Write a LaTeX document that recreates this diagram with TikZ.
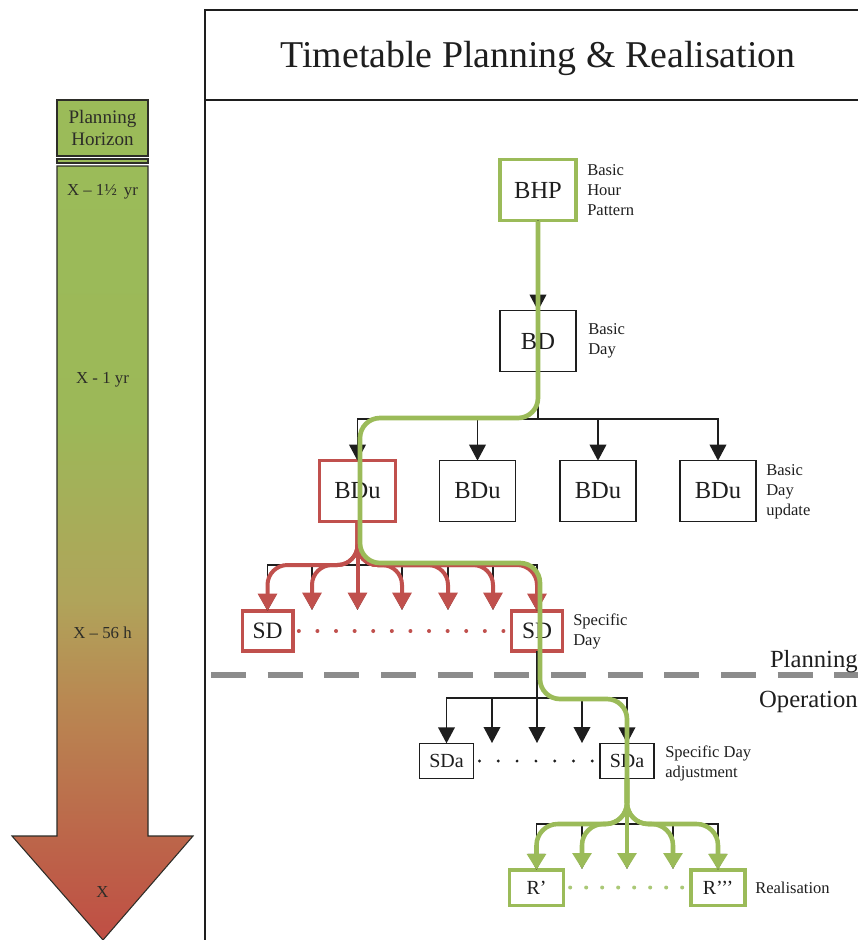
\documentclass[tikz,border=0pt]{standalone}
\usepackage{fontspec}
\setmainfont{Liberation Serif}
\usetikzlibrary{arrows.meta}

\definecolor{hzgreen}{RGB}{155,187,89}
\definecolor{hzgreenb}{RGB}{156,184,88}
\definecolor{hzolive}{RGB}{176,164,90}
\definecolor{hztan}{RGB}{185,136,82}
\definecolor{hzbrown}{RGB}{188,102,74}
\definecolor{hzred}{RGB}{192,78,68}
\definecolor{hzedge}{RGB}{45,45,40}
\definecolor{flowred}{RGB}{192,80,77}
\definecolor{flowgreen}{RGB}{155,187,89}
\definecolor{dotgreen}{RGB}{170,200,118}
\definecolor{ink}{RGB}{30,30,30}
\definecolor{dashgray}{RGB}{140,140,140}

% time axis: green at the top, red towards the deadline
\pgfdeclareverticalshading{horizonshade}{100bp}{%
  color(0bp)=(hzred); color(25bp)=(hzred); color(31.7bp)=(hzbrown);
  color(40.5bp)=(hztan); color(47bp)=(hzolive); color(58.6bp)=(hzgreenb);
  color(75bp)=(hzgreen); color(100bp)=(hzgreen)}

\begin{document}
\begin{tikzpicture}[x=0.75pt,y=-0.75pt,
  nbox/.style={draw=ink, line width=1.2pt, fill=white, inner sep=0pt, outer sep=0pt, text=ink},
  bigbox/.style={nbox, minimum width=57pt, minimum height=45.5pt, font=\fontsize{18.4}{20}\selectfont},
  sdbox/.style={nbox, minimum width=38pt, minimum height=30pt, font=\fontsize{17.6}{20}\selectfont},
  smallbox/.style={nbox, minimum width=40.5pt, minimum height=26.5pt, font=\fontsize{15}{17}\selectfont},
  redbox/.style={draw=flowred, line width=2.5pt},
  greenbox/.style={draw=flowgreen, line width=2.5pt},
  note/.style={font=\fontsize{12.4}{15}\selectfont, align=left, anchor=west, inner sep=0pt, text=ink},
  hztext/.style={font=\fontsize{12.6}{15}\selectfont, text=hzedge, inner sep=0pt},
  blkline/.style={draw=ink, line width=1.1pt},
  blk/.style={blkline, -{Triangle[width=12.5pt,length=12pt]}},
  redfan/.style={draw=flowred, line width=3pt, rounded corners=15pt, -{Triangle[width=14pt,length=13pt]}},
  greenfan/.style={draw=flowgreen, line width=3.4pt, rounded corners=16pt, -{Triangle[width=14pt,length=12pt]}},
  greenroute/.style={draw=flowgreen, line width=3.5pt, rounded corners=15pt},
  dots/.style={line cap=round, line width=3pt}
]
\useasboundingbox (0,0) rectangle (858,940);

% ---------- planning horizon arrow ----------
\shadedraw[shading=horizonshade, draw=hzedge, line width=0.8pt]
  (57,166) -- (148,166) -- (148,836) -- (193,836) -- (103,940) -- (12,836) -- (57,836) -- cycle;
\node[draw=hzedge, fill=hzgreen, line width=0.8pt, minimum width=68.25pt, minimum height=42pt,
      inner sep=0pt, align=center, text=hzedge, font=\fontsize{14.3}{16.5}\selectfont]
  (hdr) at (102.5,128) {Planning\\Horizon};
\draw[draw=hzedge, fill=hzgreen, line width=0.8pt] (57,159) rectangle (148,163);
\node[hztext] (t1) at (102.5,192) {X – 1½\, yr};
\node[hztext] (t2) at (102.5,380) {X - 1 yr};
\node[hztext] (t3) at (102.5,633) {X – 56 h};
\node[hztext] (t4) at (102.5,892) {X};

% ---------- frame and title ----------
\draw[ink, line width=1.5pt] (205,940) -- (205,10) -- (858,10);
\draw[ink, line width=1.5pt] (205,100) -- (858,100);
\node[font=\fontsize{28.4}{34}\selectfont, anchor=base, text=ink] (title) at (538,67)
  {Timetable Planning \& Realisation};

% ---------- planning / operation boundary ----------
\draw[dashgray, line width=4pt, dash pattern=on 26.3pt off 16.2pt] (211,675) -- (858,675);
\node[anchor=base east, inner sep=0pt, text=ink, font=\fontsize{18.5}{20}\selectfont] (plan) at (858,667) {Planning};
\node[anchor=base east, inner sep=0pt, text=ink, font=\fontsize{18.5}{20}\selectfont] (oper) at (858,707) {Operation};

% ---------- boxes ----------
\node[bigbox, greenbox] (BHP) at (538,190) {BHP};
\node[bigbox] (BD) at (538,341) {BD};
\node[bigbox, redbox] (BDu1) at (357.5,491) {BDu};
\node[bigbox] (BDu2) at (477.5,491) {BDu};
\node[bigbox] (BDu3) at (598,491) {BDu};
\node[bigbox] (BDu4) at (718,491) {BDu};
\node[sdbox, redbox] (SD1) at (267.5,631) {SD};
\node[sdbox, redbox] (SD2) at (537,631) {SD};
\node[smallbox] (SDa1) at (446.5,761) {SDa};
\node[smallbox] (SDa2) at (627,761) {SDa};
\node[smallbox, greenbox] (R1) at (536.5,887.5) {R’};
\node[smallbox, greenbox] (R2) at (718,887.5) {R’’’};

% ---------- side notes ----------
\node[note] (nbhp) at (587,190) {Basic\\Hour\\Pattern};
\node[note] (nbd) at (588,341) {Basic\\Day};
\node[note] (nbdu) at (766,492) {Basic\\Day\\update};
\node[note] (nsd) at (573,631) {Specific\\Day};
\node[note] (nsda) at (665,763) {Specific Day\\adjustment};
\node[note] (nr) at (755,888) {Realisation};

% ---------- branching points ----------
\coordinate (bdbus) at (538,419);
\coordinate (sdbus) at (357.5,565);
\coordinate (sdabus) at (537,698);
\coordinate (rbus) at (627,824);
\coordinate (sd2) at (312,610);
\coordinate (sd3) at (357.5,610);
\coordinate (sd4) at (402,610);
\coordinate (sd5) at (448,610);
\coordinate (sd6) at (493,610);
\coordinate (sda2) at (492,743);
\coordinate (sda3) at (537,743);
\coordinate (sda4) at (582,743);
\coordinate (r2) at (582,869);
\coordinate (r3) at (627,869);
\coordinate (r4) at (673,869);

% ---------- hierarchy (black) ----------
\draw[blk] (BHP.south) -- (BD.north);
\draw[blkline] (BD.south) -- (bdbus);
\foreach \t in {BDu1,BDu2,BDu3,BDu4} \draw[blk] (bdbus) -| (\t.north);
\draw[blkline] (BDu1.south) -- (sdbus);
\foreach \t in {SD1.north,sd2,sd3,sd4,sd5,sd6,SD2.north} \draw[blk] (sdbus) -| (\t);
\draw[blkline] (SD2.south) -- (sdabus);
\foreach \t in {SDa1.north,sda2,sda3,sda4,SDa2.north} \draw[blk] (sdabus) -| (\t);
\draw[blkline] (SDa2.south) -- (rbus);
\foreach \t in {R1.north,r2,r3,r4,R2.north} \draw[blk] (rbus) -| (\t);

% ---------- ellipses between sibling boxes ----------
\draw[flowred, dots, dash pattern=on 0pt off 13.95pt] ([xshift=4.5pt]SD1.east) -- ([xshift=-3pt]SD2.west);
\draw[ink, dots, line width=2.4pt, dash pattern=on 0pt off 14.1pt] ([xshift=4.5pt]SDa1.east) -- ([xshift=-3pt]SDa2.west);
\draw[dotgreen, dots, dash pattern=on 0pt off 12pt] ([xshift=5pt]R1.east) -- ([xshift=-3pt]R2.west);

% ---------- expansion of one basic day update (red) ----------
\draw[redfan] (BDu1.south) -- (sd3);
\foreach \t in {SD1.north,sd2,sd4,sd5,sd6,SD2.north} \draw[redfan] (BDu1.south) -- (sdbus) -| (\t);

% ---------- realised path (green) ----------
\draw[greenroute] (BHP.south) -- (538,418) -- (360,418) -- (360,563) -- (540,563)
  -- (540,699) -- (627,699) -- (SDa2.south);
\draw[greenfan] (SDa2.south) -- (r3);
\foreach \t in {R1.north,r2,r4,R2.north} \draw[greenfan] (SDa2.south) -- (rbus) -| (\t);
\end{tikzpicture}
\end{document}
